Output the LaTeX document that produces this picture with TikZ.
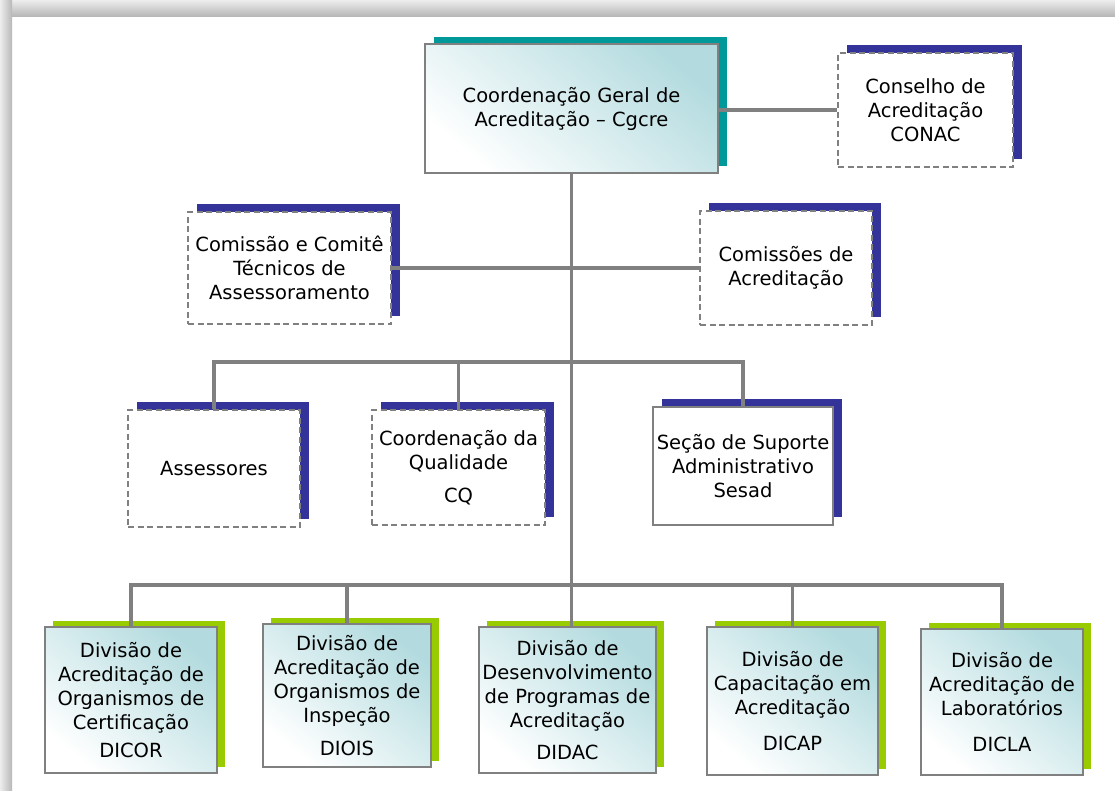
\documentclass[tikz,border=0pt]{standalone}
\usepackage{fontspec}
\setmainfont{DejaVu Sans}
\usetikzlibrary{shadows}
\definecolor{lineg}{HTML}{808080}
\definecolor{shblue}{HTML}{333399}
\definecolor{shteal}{HTML}{009999}
\definecolor{shgreen}{HTML}{99CC00}
\definecolor{fillteal}{HTML}{B3DBDF}
\begin{document}
\begin{tikzpicture}[x=1pt,y=-1pt,
  every node/.style={inner sep=0pt, align=center, font=\fontsize{19.5}{24}\selectfont},
  conn/.style={draw=lineg, line width=3.5pt},
  dashbox/.style={draw=lineg, line width=1.5pt, dash pattern=on 6pt off 3.5pt, fill=white,
    general shadow={shadow xshift=8.5pt, shadow yshift=8pt, fill=shblue}},
  bluebox/.style={draw=lineg, line width=2pt, fill=white,
    general shadow={shadow xshift=9pt, shadow yshift=8pt, fill=shblue}},
  gradbox/.style={draw=lineg, line width=2pt, top color=fillteal, bottom color=white, shading angle=-40},
  topbox/.style={gradbox, general shadow={shadow xshift=9pt, shadow yshift=7pt, fill=shteal}},
  divbox/.style={gradbox, general shadow={shadow xshift=8pt, shadow yshift=6pt, fill=shgreen}}
]
\useasboundingbox (0,0) rectangle (1115,790);
\fill[white] (0,0) rectangle (1115,790);
\shade[top color=black!7, bottom color=black!28] (0,0) rectangle (1115,16);
\shade[left color=black!7, right color=black!28] (0,0) rectangle (12,790);

% top level
\node[topbox, minimum width=293pt, minimum height=129pt] (cg) at (571.5,108.5)
  {Coordenação Geral de\\Acreditação – Cgcre};
\node[dashbox, minimum width=175pt, minimum height=114pt] (conac) at (925.5,110)
  {Conselho de\\Acreditação\\CONAC};

% second level
\node[dashbox, minimum width=203pt, minimum height=112pt] (ctec) at (289.5,268)
  {Comissão e Comitê\\Técnicos de\\Assessoramento};
\node[dashbox, minimum width=172pt, minimum height=114pt] (cacr) at (786,268)
  {Comissões de\\Acreditação};

% third level
\node[dashbox, minimum width=172pt, minimum height=117pt] (ass) at (214,468.5)
  {Assessores};
\node[dashbox, minimum width=173pt, minimum height=115pt] (cq) at (458.5,467.5)
  {Coordenação da\\Qualidade\\[9pt]CQ};
\node[bluebox, minimum width=180pt, minimum height=118pt] (ses) at (743,466)
  {Seção de Suporte\\Administrativo\\Sesad};

% divisions
\node[divbox, minimum width=172pt, minimum height=146pt] (dicor) at (131,700)
  {Divisão de\\Acreditação de\\Organismos de\\Certificação\\[4pt]DICOR};
\node[divbox, minimum width=168pt, minimum height=143pt] (diois) at (347,695.5)
  {Divisão de\\Acreditação de\\Organismos de\\Inspeção\\[9pt]DIOIS};
\node[divbox, minimum width=177pt, minimum height=146pt] (didac) at (567.5,700)
  {Divisão de\\Desenvolvimento\\de Programas de\\Acreditação\\[8pt]DIDAC};
\node[divbox, minimum width=171pt, minimum height=148pt] (dicap) at (792.5,701)
  {Divisão de\\Capacitação em\\Acreditação\\[12pt]DICAP};
\node[divbox, minimum width=162pt, minimum height=146pt] (dicla) at (1002,702)
  {Divisão de\\Acreditação de\\Laboratórios\\[12pt]DICLA};

% connectors
\coordinate (b2) at (571,362);
\coordinate (b3) at (571,585);
\draw[conn] (cg.south) -- (cg.south |- didac.north);
\draw[conn] (conac.west -| cg.east) -- (conac.west);
\draw[conn] (ctec.east) -- (cacr.west);
\draw[conn] (ass.north) |- (b2) -| (ses.north);
\draw[conn] (cq.north) -- (cq.north |- b2);
\draw[conn] (dicor.north) |- (b3) -| (dicla.north);
\draw[conn] (diois.north) -- (diois.north |- b3);
\draw[conn] (dicap.north) -- (dicap.north |- b3);
\end{tikzpicture}
\end{document}
